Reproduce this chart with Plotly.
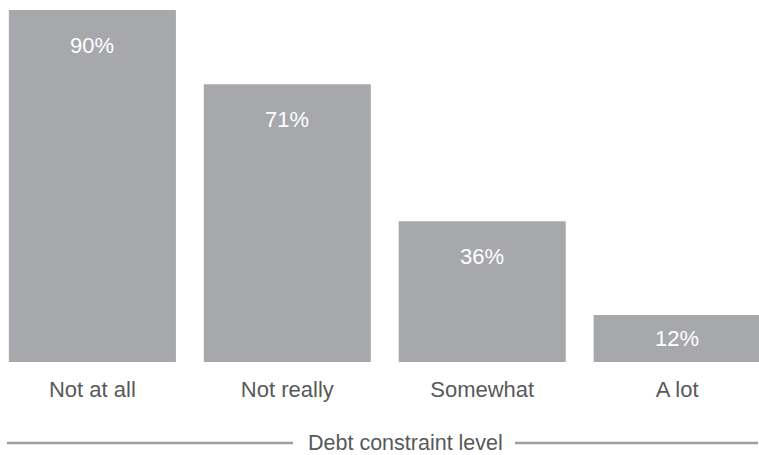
import plotly.graph_objects as go

categories = ["Not at all", "Not really", "Somewhat", "A lot"]
values = [90, 71, 36, 12]
value_labels = ["90%", "71%", "36%", "12%"]
axis_title = "Debt constraint level"

W, H = 759, 455
M_T, M_B = 10, 93
plot_h = H - M_T - M_B
y_max = 90
px_per_unit = plot_h / y_max

BAR = "#a7a8ab"
TXT = "#58595b"
FONT = "Liberation Sans, Arial, sans-serif"

fig = go.Figure(go.Bar(
    x=categories, y=values, marker=dict(color=BAR, line=dict(width=0)),
    width=0.857, hoverinfo="skip",
))

for c, v, t in zip(categories, values, value_labels):
    h = v * px_per_unit
    off = min(35, h / 2)
    fig.add_annotation(x=c, y=v, text=t, showarrow=False, yanchor="middle",
                       yshift=-off, font=dict(family=FONT, size=22, color="white"))

line_y = -(443 - (H - M_B)) / plot_h
fig.add_shape(type="line", xref="paper", yref="paper", x0=7/W, x1=293/W, y0=line_y, y1=line_y,
              line=dict(color="#9d9ea0", width=2.5))
fig.add_shape(type="line", xref="paper", yref="paper", x0=515/W, x1=758/W, y0=line_y, y1=line_y,
              line=dict(color="#9d9ea0", width=2.5))
fig.add_annotation(xref="paper", yref="paper", x=405.5/W, y=line_y, text=axis_title,
                   showarrow=False, xanchor="center", yanchor="middle",
                   font=dict(family=FONT, size=21.5, color=TXT))

fig.update_layout(
    width=W, height=H, margin=dict(l=0, r=0, t=M_T, b=M_B),
    paper_bgcolor="white", plot_bgcolor="white", showlegend=False,
    xaxis=dict(type="category", range=[-0.474, 3.42], showgrid=False, zeroline=False,
               showline=False, ticks="outside", ticklen=8, tickcolor="rgba(0,0,0,0)",
               tickfont=dict(family=FONT, size=22, color=TXT)),
    yaxis=dict(range=[0, y_max], visible=False, fixedrange=True),
)

fig.write_html("out.html", config={"displayModeBar": False},
               post_script="document.body.style.margin='0';document.body.style.overflow='hidden';")
